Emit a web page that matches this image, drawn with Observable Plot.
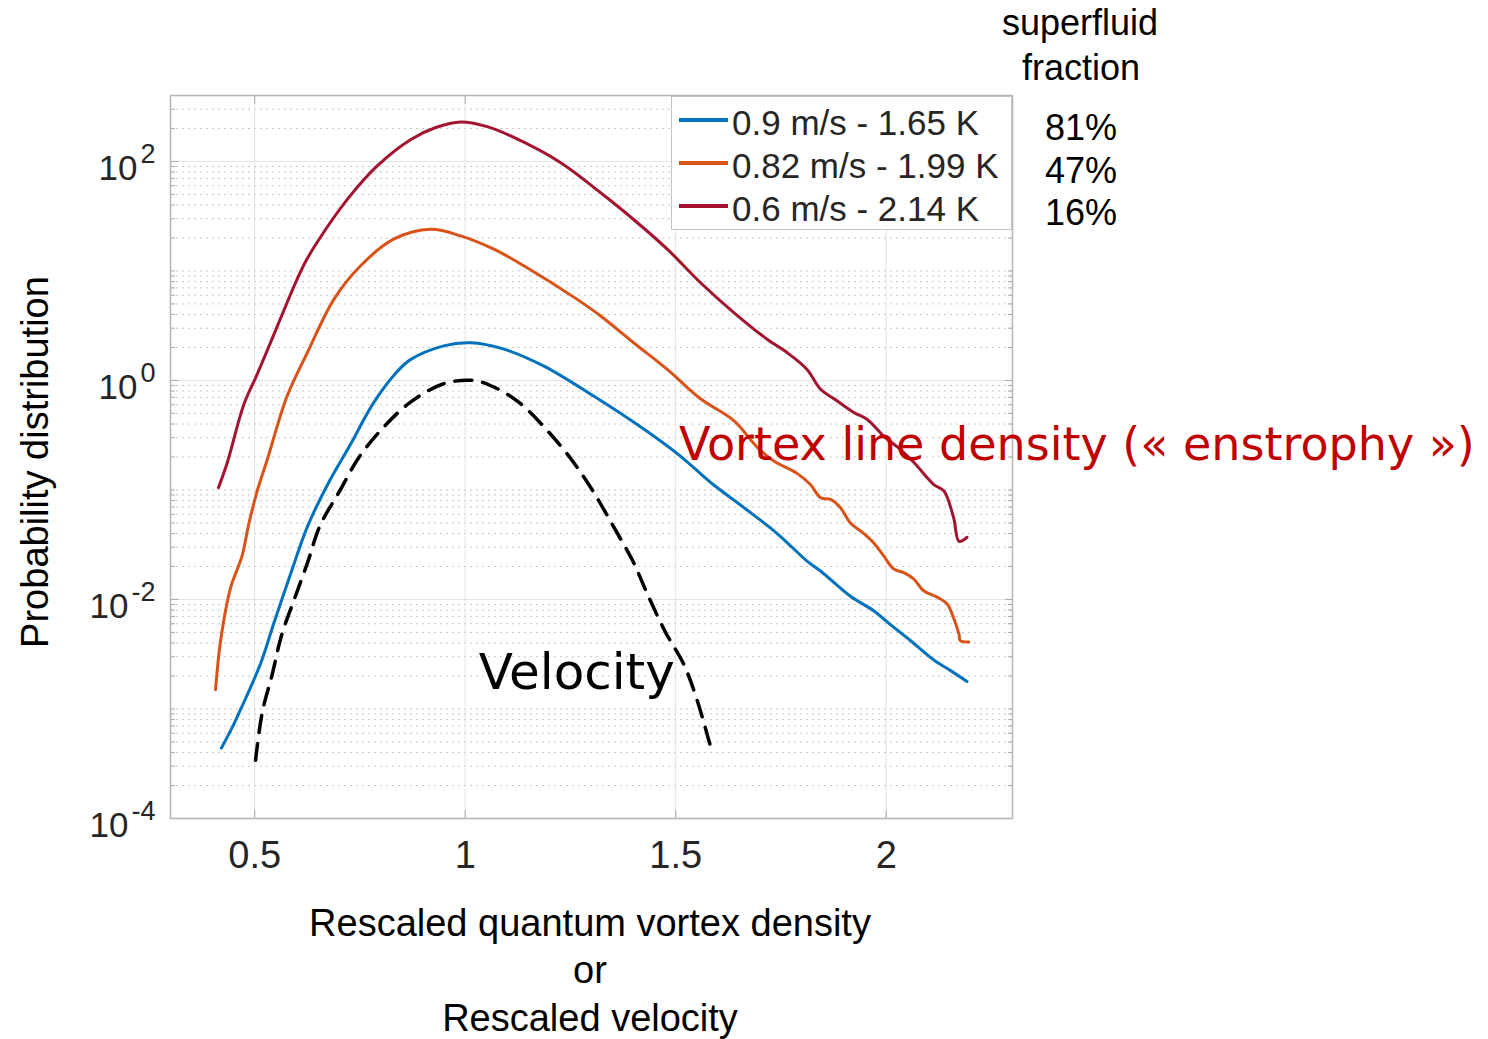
<!DOCTYPE html>
<html>
<head>
<meta charset="utf-8">
<script src="https://cdn.jsdelivr.net/npm/d3@7"></script>
<script src="https://cdn.jsdelivr.net/npm/@observablehq/plot@0.6"></script>
<style>
  html, body { margin: 0; padding: 0; background: #fff; }
  #page { position: relative; width: 1488px; height: 1039px; overflow: hidden; font-family: "Liberation Sans", Arial, sans-serif; color: #000; }
  #page svg { position: absolute; left: 0; top: 0; }
  .t { position: absolute; white-space: nowrap; line-height: 1; }
  #legend { position: absolute; left: 671px; top: 96px; width: 341px; height: 134px; background: #fff; border: 1.5px solid #c4c4c4; box-sizing: border-box; }
  .lrow { position: absolute; left: 0; white-space: nowrap; font-size: 35px; line-height: 1; color: #262626; }
  .lsw { position: absolute; left: 7px; width: 49px; height: 3.5px; }
  .ltx { position: absolute; left: 60px; }
</style>
</head>
<body>
<div id="page"></div>
<script>
// ---------- data ----------
const seriesNames = ["0.9 m/s - 1.65 K", "0.82 m/s - 1.99 K", "0.6 m/s - 2.14 K"];
const seriesColors = ["#0072BD", "#D95319", "#A2142F"];
const superfluidFraction = ["81%", "47%", "16%"];

const xTicks = [0.5, 1, 1.5, 2];
const yTicks = [1e-4, 1e-2, 1, 1e2];

// 0.9 m/s - 1.65 K (blue)
const blueX = [0.421, 0.45, 0.466, 0.514, 0.545, 0.585, 0.625, 0.672, 0.728, 0.783, 0.838, 0.870, 0.949, 1.013, 1.092, 1.187, 1.305, 1.424, 1.511, 1.583, 1.662, 1.741, 1.812, 1.844, 1.915, 1.97, 2.01, 2.058, 2.113, 2.153, 2.192];
const blueY = [0.00044, 0.00072, 0.00098, 0.0026, 0.006, 0.017, 0.046, 0.11, 0.263, 0.63, 1.20, 1.55, 2.07, 2.21, 1.93, 1.35, 0.72, 0.36, 0.204, 0.117, 0.069, 0.040, 0.0224, 0.0182, 0.0107, 0.0079, 0.0059, 0.0042, 0.0028, 0.00224, 0.00178];

// 0.82 m/s - 1.99 K (orange)
const orangeX = [0.407, 0.419, 0.443, 0.454, 0.47, 0.486, 0.506, 0.53, 0.577, 0.625, 0.688, 0.751, 0.830, 0.918, 0.989, 1.068, 1.147, 1.266, 1.321, 1.40, 1.48, 1.559, 1.638, 1.694, 1.733, 1.789, 1.82, 1.844, 1.868, 1.891, 1.915, 1.947, 1.97, 1.994, 2.018, 2.042, 2.066, 2.089, 2.121, 2.145, 2.157, 2.173, 2.176, 2.196];
const orangeY = [0.0015, 0.0042, 0.0129, 0.017, 0.025, 0.049, 0.098, 0.19, 0.72, 1.79, 5.5, 11.1, 19.5, 24, 20.9, 15.8, 10.7, 5.5, 3.9, 2.21, 1.26, 0.68, 0.43, 0.245, 0.184, 0.141, 0.112, 0.085, 0.082, 0.069, 0.050, 0.040, 0.033, 0.025, 0.019, 0.0176, 0.0153, 0.012, 0.0105, 0.0091, 0.0073, 0.0048, 0.0042, 0.0041];

// 0.6 m/s - 2.14 K (red)
const redX = [0.414, 0.435, 0.474, 0.505, 0.537, 0.565, 0.593, 0.620, 0.648, 0.720, 0.791, 0.870, 0.930, 0.990, 1.050, 1.108, 1.226, 1.321, 1.40, 1.48, 1.559, 1.638, 1.717, 1.765, 1.812, 1.844, 1.876, 1.923, 1.955, 1.994, 2.034, 2.066, 2.113, 2.137, 2.160, 2.173, 2.192];
const redY = [0.105, 0.178, 0.60, 1.12, 2.19, 3.98, 7.2, 12.0, 18.2, 45, 91, 158, 204, 229, 209, 171, 98, 52, 29.5, 15.8, 7.8, 4.17, 2.38, 1.79, 1.26, 0.83, 0.68, 0.51, 0.44, 0.31, 0.234, 0.178, 0.112, 0.098, 0.056, 0.034, 0.037];

// velocity (dashed)
const velX = [0.502, 0.518, 0.542, 0.563, 0.593, 0.625, 0.656, 0.700, 0.747, 0.803, 0.870, 0.949, 1.020, 1.068, 1.127, 1.195, 1.254, 1.305, 1.353, 1.397, 1.436, 1.476, 1.519, 1.551, 1.583];
const velY = [0.00034, 0.00093, 0.0021, 0.0046, 0.0098, 0.0214, 0.048, 0.095, 0.197, 0.363, 0.634, 0.933, 1.0, 0.871, 0.634, 0.349, 0.186, 0.0955, 0.0457, 0.0229, 0.0105, 0.0050, 0.00257, 0.0012, 0.00045];

const annotationText = ["Velocity", "Vortex line density (« enstrophy »)"];
const annotationX = [1.032, 1.508];
const annotationY = [0.00151, 0.186];
const annotationColor = ["#000000", "#C00000"];

// ---------- build ----------
const seriesX = [blueX, orangeX, redX];
const seriesY = [blueY, orangeY, redY];
const rows = [];
seriesNames.forEach((name, i) => seriesX[i].forEach((x, j) => rows.push({series: name, x, y: seriesY[i][j]})));
const velocity = velX.map((x, i) => ({x, y: velY[i]}));
const annotations = annotationText.map((t, i) => ({text: t, x: annotationX[i], y: annotationY[i], color: annotationColor[i]}));

const minorY = [];
for (let k = -4; k <= 2; k++) for (let n = 1; n <= 9; n++) {
  const v = n * Math.pow(10, k);
  if (v <= 400 && !yTicks.some(t => Math.abs(t - v) / v < 1e-9)) minorY.push(v);
}

const chart = Plot.plot({
  width: 1488, height: 880,
  marginLeft: 170, marginRight: 476, marginTop: 95, marginBottom: 62,
  x: {domain: [0.3, 2.3]},
  y: {type: "log", domain: [1e-4, 400]},
  color: {domain: seriesNames, range: seriesColors},
  style: {fontFamily: "'Liberation Sans', Arial, sans-serif", background: "transparent", overflow: "visible"},
  marks: [
    Plot.gridY(minorY, {stroke: "#c6c6c6", strokeOpacity: 1, strokeDasharray: "2,4"}),
    Plot.gridY(yTicks, {stroke: "#e2e2e2", strokeOpacity: 1}),
    Plot.gridX(xTicks, {stroke: "#e2e2e2", strokeOpacity: 1}),
    Plot.axisX(xTicks, {tickSize: 0, tickPadding: 23, fontSize: 38, fill: "#262626", label: null, tickFormat: d => String(d)}),
    Plot.axisY(yTicks, {tickSize: 0, tickPadding: 15, fontSize: 35, fill: "#262626", label: null, dy: 7, tickFormat: d => "10^" + Math.round(Math.log10(d))}),
    Plot.axisY(yTicks, {anchor: "left", tickSize: -8, stroke: "#a8a8a8", label: null, tickFormat: () => ""}),
    Plot.axisY(minorY, {anchor: "left", tickSize: -5, stroke: "#a8a8a8", label: null, tickFormat: () => ""}),
    Plot.axisY(yTicks, {anchor: "right", tickSize: -8, stroke: "#a8a8a8", label: null, tickFormat: () => ""}),
    Plot.axisY(minorY, {anchor: "right", tickSize: -5, stroke: "#a8a8a8", label: null, tickFormat: () => ""}),
    Plot.axisX(xTicks, {anchor: "bottom", tickSize: -8, stroke: "#a8a8a8", label: null, tickFormat: () => ""}),
    Plot.axisX(xTicks, {anchor: "top", tickSize: -8, stroke: "#a8a8a8", label: null, tickFormat: () => ""}),
    Plot.frame({stroke: "#b8b8b8", strokeWidth: 1.6}),
    Plot.line(rows, {x: "x", y: "y", z: "series", stroke: "series", strokeWidth: 3, curve: "catmull-rom"}),
    Plot.line(velocity, {x: "x", y: "y", stroke: "#000", strokeWidth: 3.5, strokeDasharray: "17,11", curve: "catmull-rom"}),
    Plot.text(annotations.slice(0, 1), {x: "x", y: "y", text: "text", fill: "color", textAnchor: "start", lineAnchor: "bottom", fontSize: 50, fontFamily: "'DejaVu Sans', sans-serif"}),
    Plot.text(annotations.slice(1), {x: "x", y: "y", text: "text", fill: "color", textAnchor: "start", lineAnchor: "bottom", fontSize: 46, fontFamily: "'DejaVu Sans', sans-serif"})
  ]
});

const page = document.getElementById("page");
page.appendChild(chart);

// superscript exponents on log tick labels
chart.querySelectorAll("text").forEach(t => {
  const s = t.textContent;
  if (/^10\^-?\d+$/.test(s)) {
    const [b, e] = s.split("^");
    t.textContent = "";
    const ns = "http://www.w3.org/2000/svg";
    const t1 = document.createElementNS(ns, "tspan"); t1.textContent = b; t.appendChild(t1);
    const t2 = document.createElementNS(ns, "tspan");
    t2.textContent = e; t2.setAttribute("dy", "-0.62em"); t2.setAttribute("dx", "3");
    t2.setAttribute("font-size", "27"); t.appendChild(t2);
  }
});

// legend (inside the axes, top-right)
const legend = document.createElement("div");
legend.id = "legend";
const rowTops = [8, 51, 94];
seriesNames.forEach((name, i) => {
  const r = document.createElement("div");
  r.className = "lrow"; r.style.top = rowTops[i] + "px"; r.style.width = "100%"; r.style.height = "36px";
  const sw = document.createElement("div"); sw.className = "lsw"; sw.style.background = seriesColors[i]; sw.style.top = "13px";
  const tx = document.createElement("div"); tx.className = "ltx"; tx.textContent = name; tx.style.top = "0px";
  r.appendChild(sw); r.appendChild(tx); legend.appendChild(r);
});
page.appendChild(legend);

// outside texts
function addText(txt, opts) {
  const d = document.createElement("div"); d.className = "t"; d.textContent = txt;
  Object.assign(d.style, opts); page.appendChild(d); return d;
}
addText("superfluid", {left: "1080px", top: "5px", fontSize: "36px", transform: "translateX(-50%)"});
addText("fraction", {left: "1081px", top: "50px", fontSize: "36px", transform: "translateX(-50%)"});
const fracTops = [110, 153, 195];
superfluidFraction.forEach((f, i) => addText(f, {left: "1045px", top: fracTops[i] + "px", fontSize: "36px"}));
addText("Probability distribution", {left: "35px", top: "462px", fontSize: "38px", transform: "translate(-50%,-50%) rotate(-90deg)"});
addText("Rescaled quantum vortex density", {left: "590px", top: "904px", fontSize: "38px", transform: "translateX(-50%)"});
addText("or", {left: "590px", top: "951px", fontSize: "38px", transform: "translateX(-50%)"});
addText("Rescaled velocity", {left: "590px", top: "999px", fontSize: "38px", transform: "translateX(-50%)"});
</script>
</body>
</html>
